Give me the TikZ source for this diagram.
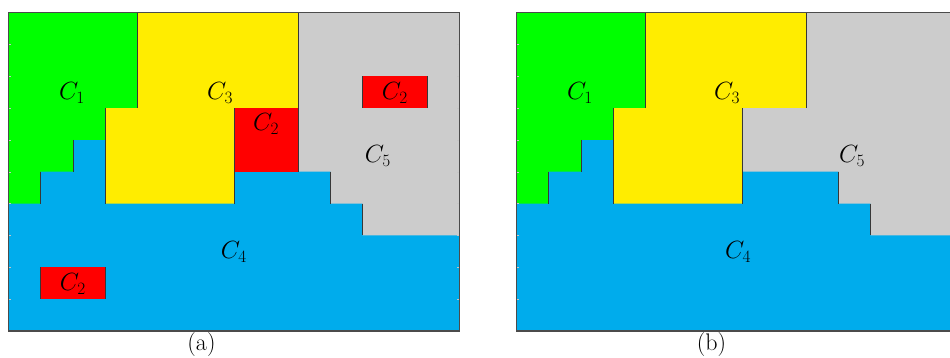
\documentclass[tikz,border=0pt]{standalone}
\usepackage{xcolor}
\definecolor{regGreen}{RGB}{0,255,0}
\definecolor{regYellow}{RGB}{255,237,0}
\definecolor{regGrey}{RGB}{204,204,204}
\definecolor{regRed}{RGB}{255,0,0}
\definecolor{regBlue}{RGB}{0,172,236}
\definecolor{edgeDark}{RGB}{55,55,55}

\tikzset{
  region/.style={fill=#1, draw=none},
  cut/.style={draw=edgeDark, line width=0.6pt},
  frame/.style={draw=edgeDark!90, line width=1.3pt},
  gridtick/.style={draw=gray!45, line width=0.4pt},
  lbl/.style={font=\fontsize{24}{28}\selectfont, inner sep=0pt},
  captext/.style={font=\fontsize{24}{28}\selectfont, inner sep=0pt},
}

\begin{document}
\begin{tikzpicture}[x=1pt,y=-1pt]
\clip (0,0) rectangle (950,358);
\fill[white] (0,0) rectangle (950,358);

% ---------- (a): partition with the red class C2 ----------
\begin{scope}[shift={(8.5,12.5)}, x=32.2pt, y=-31.85pt]
  \fill[region=regBlue] (0,0) rectangle (14,10);
  \fill[region=regGreen] (0,0) -- (4,0) -- (4,3) -- (3,3) -- (3,4) -- (2,4)
        -- (2,5) -- (1,5) -- (1,6) -- (0,6) -- cycle;
  \fill[region=regYellow] (4,0) -- (9,0) -- (9,3) -- (7,3) -- (7,6) -- (3,6)
        -- (3,3) -- (4,3) -- cycle;
  \fill[region=regGrey] (9,0) -- (14,0) -- (14,7) -- (11,7) -- (11,6) -- (10,6)
        -- (10,5) -- (7,5) -- (7,3) -- (9,3) -- cycle;
  \fill[region=regRed] (7,3) rectangle (9,5);
  \fill[region=regRed] (11,2) rectangle (13,3);
  \fill[region=regRed] (1,8) rectangle (3,9);
  % vertical class boundaries
  \draw[cut] (4,0) -- (4,3) (3,3) -- (3,6) (2,4) -- (2,5) (1,5) -- (1,6)
             (9,0) -- (9,5) (7,3) -- (7,6) (10,5) -- (10,6) (11,6) -- (11,7)
             (11,2) -- (11,3) (13,2) -- (13,3) (1,8) -- (1,9) (3,8) -- (3,9);
  \foreach \j in {1,...,9} {
    \draw[gridtick] (0,\j) -- ++(2.5pt,0);
    \draw[gridtick] (14,\j) -- ++(-2.5pt,0);
  }
  \draw[frame] (0,0) rectangle (14,10);
  \node[lbl] (a1)  at (1.97,2.53) {$C_1$};
  \node[lbl] (a3)  at (6.57,2.53) {$C_3$};
  \node[lbl] (a2m) at (8.0,3.5)   {$C_2$};
  \node[lbl] (a2t) at (12.0,2.53) {$C_2$};
  \node[lbl] (a5)  at (11.47,4.5) {$C_5$};
  \node[lbl] (a4)  at (7.0,7.52)  {$C_4$};
  \node[lbl] (a2b) at (2.0,8.52)  {$C_2$};
\end{scope}

% ---------- (b): same partition without C2 ----------
\begin{scope}[shift={(516.5,12.5)}, x=32.2pt, y=-31.85pt]
  \fill[region=regBlue] (0,0) rectangle (14,10);
  \fill[region=regGreen] (0,0) -- (4,0) -- (4,3) -- (3,3) -- (3,4) -- (2,4)
        -- (2,5) -- (1,5) -- (1,6) -- (0,6) -- cycle;
  \fill[region=regYellow] (4,0) -- (9,0) -- (9,3) -- (7,3) -- (7,6) -- (3,6)
        -- (3,3) -- (4,3) -- cycle;
  \fill[region=regGrey] (9,0) -- (14,0) -- (14,7) -- (11,7) -- (11,6) -- (10,6)
        -- (10,5) -- (7,5) -- (7,3) -- (9,3) -- cycle;
  \draw[cut] (4,0) -- (4,3) (3,3) -- (3,6) (2,4) -- (2,5) (1,5) -- (1,6)
             (9,0) -- (9,3) (7,3) -- (7,6) (10,5) -- (10,6) (11,6) -- (11,7);
  \foreach \j in {1,...,9} {
    \draw[gridtick] (0,\j) -- ++(2.5pt,0);
  }
  \draw[frame] (0,0) rectangle (14,10);
  \node[lbl] (b1) at (1.97,2.53)  {$C_1$};
  \node[lbl] (b3) at (6.54,2.53)  {$C_3$};
  \node[lbl] (b5) at (10.42,4.5)  {$C_5$};
  \node[lbl] (b4) at (6.88,7.52)  {$C_4$};
\end{scope}

\node[captext] (capa) at (201.5,345) {(a)};
\node[captext] (capb) at (711.5,345) {(b)};
\end{tikzpicture}
\end{document}
